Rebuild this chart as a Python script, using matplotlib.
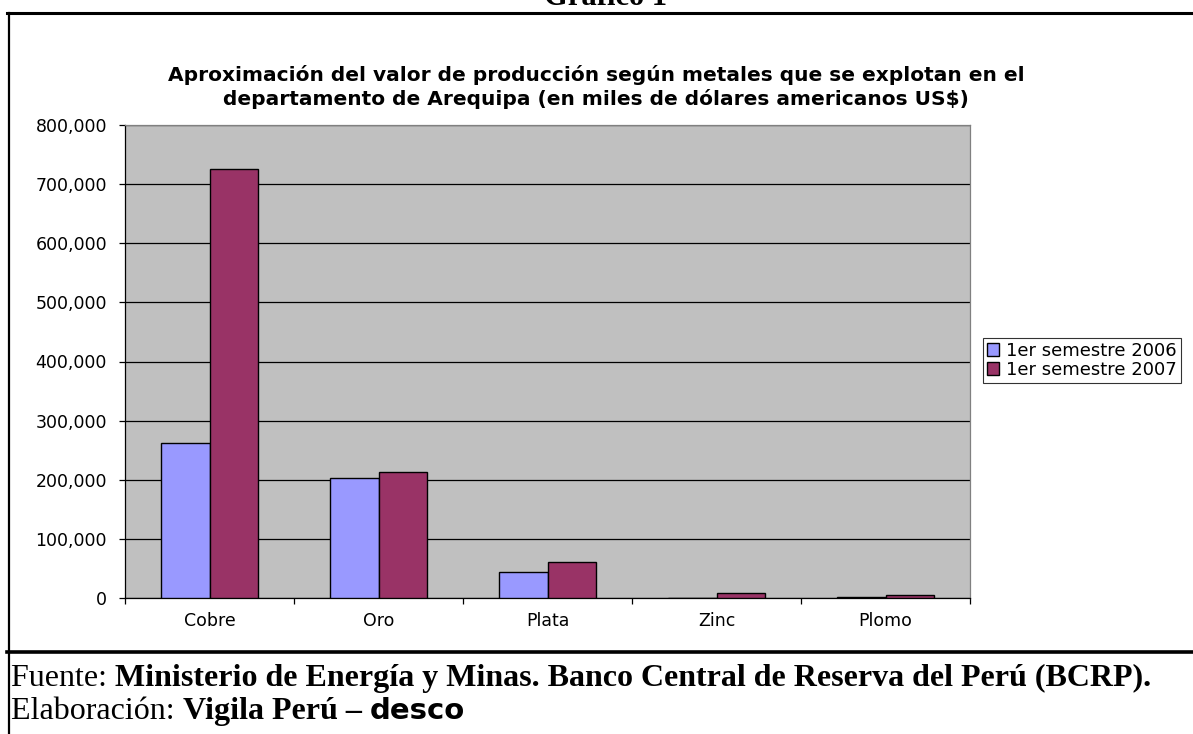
import matplotlib
matplotlib.use("Agg")
import matplotlib.pyplot as plt
from matplotlib.lines import Line2D
from matplotlib.ticker import FuncFormatter
import numpy as np

# data (miles de US$)
metales = ["Cobre", "Oro", "Plata", "Zinc", "Plomo"]
sem_2006 = [262000, 203000, 44000, 500, 1000]
sem_2007 = [725000, 213000, 61000, 8000, 5000]
series = ["1er semestre 2006", "1er semestre 2007"]
colores = ["#9999FF", "#993366"]

W, H = 1193, 734
fig = plt.figure(figsize=(W / 100, H / 100), dpi=100)
fig.patch.set_facecolor("white")

def fx(px):
    return px / W

def fy(py):
    return 1 - py / H

SANS = "DejaVu Sans"

# plot area in pixels: x 125..970, y 125..598
ax = fig.add_axes([fx(125), fy(598), fx(970 - 125), (598 - 125) / H])
ax.set_facecolor("#C0C0C0")

x = np.arange(len(metales))
bw = 0.287
ax.bar(x - bw, sem_2006, width=bw, align="edge", color=colores[0],
       edgecolor="black", linewidth=1.0, label=series[0], zorder=3)
ax.bar(x, sem_2007, width=bw, align="edge", color=colores[1],
       edgecolor="black", linewidth=1.0, label=series[1], zorder=3)

ax.set_xlim(-0.5, len(metales) - 0.5)
ax.set_ylim(0, 800000)
ax.set_yticks(np.arange(0, 800001, 100000))
ax.yaxis.set_major_formatter(FuncFormatter(lambda v, p: f"{int(v):,}"))
ax.grid(axis="y", color="black", linewidth=0.9, zorder=1)

ax.set_xticks(np.arange(-0.5, len(metales), 1.0))
ax.set_xticklabels([])
ax.set_xticks(x, minor=True)
ax.set_xticklabels(metales, minor=True, fontsize=12.5, family=SANS)
ax.tick_params(axis="x", which="major", direction="out", length=4, width=0.9)
ax.tick_params(axis="x", which="minor", length=0, pad=10)
ax.tick_params(axis="y", direction="out", length=4, width=0.9, pad=9,
               labelsize=12.5)
for lab in ax.get_yticklabels():
    lab.set_family(SANS)

for s in ["left", "bottom"]:
    ax.spines[s].set_color("black")
    ax.spines[s].set_linewidth(0.9)
for s in ["top", "right"]:
    ax.spines[s].set_color("#808080")
    ax.spines[s].set_linewidth(0.9)

leg = fig.legend(loc="center left", bbox_to_anchor=(fx(983), fy(360.5)),
                 frameon=True, fancybox=False, edgecolor="black",
                 prop={"family": SANS, "size": 13},
                 handlelength=0.7, handleheight=0.7, handletextpad=0.4,
                 borderpad=0.2, labelspacing=0.05, borderaxespad=0)
leg.get_frame().set_linewidth(0.8)

# title
t1 = "Aproximación del valor de producción según metales que se explotan en el"
t2 = "departamento de Arequipa (en miles de dólares americanos US$)"
fig.text(fx(596), fy(75), t1, ha="center", va="center", fontsize=14.5,
         fontweight="bold", family=SANS)
fig.text(fx(596), fy(99), t2, ha="center", va="center", fontsize=14.5,
         fontweight="bold", family=SANS)

# cut "Gráfico 1" header at the top
fig.text(fx(606), fy(5), "Gráfico 1", ha="center", va="baseline",
         fontsize=22, fontweight="bold", family="Liberation Serif")

# frame lines
fig.add_artist(Line2D([fx(7), 1], [fy(13), fy(13)], color="black", lw=2.2))
fig.add_artist(Line2D([fx(8.5), fx(8.5)], [fy(13), 0], color="black", lw=1.6))
fig.add_artist(Line2D([fx(7), 1], [fy(651.5), fy(651.5)], color="black", lw=2.6))

# footer with mixed styles
fig.canvas.draw()
renderer = fig.canvas.get_renderer()

def piece_line(xpx, ypx, pieces):
    cur = xpx
    for txt, kw in pieces:
        t = fig.text(fx(cur), fy(ypx), txt, ha="left", va="baseline", **kw)
        bb = t.get_window_extent(renderer=renderer)
        cur = bb.x1

serif = {"family": "Liberation Serif", "fontsize": 23}
serif_b = {"family": "Liberation Serif", "fontsize": 23, "fontweight": "bold"}
heavy = {"family": SANS, "fontsize": 21, "fontweight": "heavy"}

piece_line(11, 686, [("Fuente: ", serif),
                     ("Ministerio de Energía y Minas. Banco Central de Reserva del Perú (BCRP).", serif_b)])
piece_line(11, 719, [("Elaboración: ", serif),
                     ("Vigila Perú – ", serif_b),
                     ("desco", heavy)])

fig.savefig("out.png", dpi=100, facecolor="white")
